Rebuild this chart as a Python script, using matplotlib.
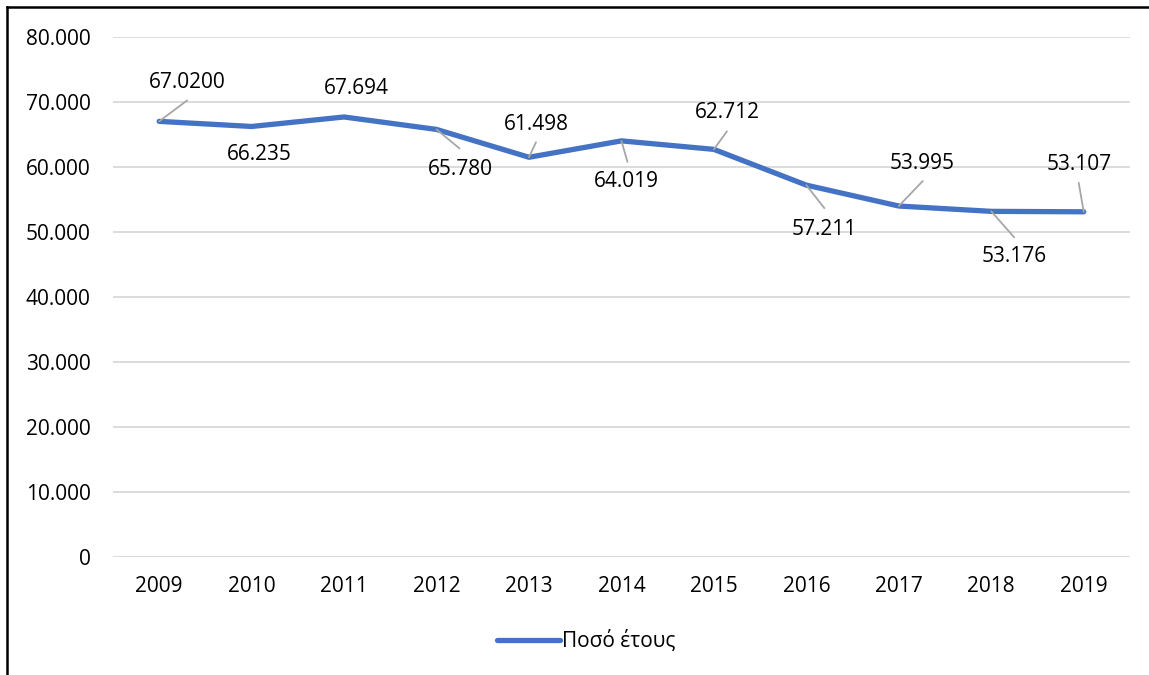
import numpy as np
import matplotlib.pyplot as plt
from matplotlib.ticker import FuncFormatter, MultipleLocator
from matplotlib.lines import Line2D

plt.rcParams['font.family'] = ['Open Sans', 'DejaVu Sans']

# ποσά ανά έτος
years = ['2009', '2010', '2011', '2012', '2013', '2014', '2015', '2016', '2017', '2018', '2019']
amounts = np.array([67020, 66235, 67694, 65780, 61498, 64019, 62712, 57211, 53995, 53176, 53107])
value_labels = ['67.0200', '66.235', '67.694', '65.780', '61.498', '64.019',
                '62.712', '57.211', '53.995', '53.176', '53.107']

# θέσεις ετικετών (σε pixel από το σημείο) και άκρα γραμμών οδηγών
label_offsets = [(28, 39), (8, -28), (12, 28), (24, -40), (7, 33), (5, -41),
                 (13, 37), (18, -44), (23, 43), (23, -45), (-5, 47)]
leader_ends = [(28, 21), None, None, (23, -19), (7, 15), (6, -21),
               (13, 18), (18, -23), (24, 25), (23, -26), (-5, 29)]

fig = plt.figure(figsize=(11.49, 6.75), dpi=100)
ax = fig.add_axes([0.0983, 0.1748, 0.8851, 0.7704])

x = np.arange(len(years))
line, = ax.plot(x, amounts, color='#4472C4', linewidth=3.8,
                solid_capstyle='round', solid_joinstyle='round', label='Ποσό έτους', zorder=3)

for i in range(len(x)):
    if leader_ends[i] is not None:
        ax.annotate('', xy=(x[i], amounts[i]), xytext=leader_ends[i], textcoords='offset pixels',
                    arrowprops=dict(arrowstyle='-', color='#a6a6a6', lw=1.3, shrinkA=0, shrinkB=0),
                    zorder=4)
    ax.annotate(value_labels[i], xy=(x[i], amounts[i]), xytext=label_offsets[i],
                textcoords='offset pixels', ha='center', va='center', fontsize=15, color='#000000')

ax.set_xlim(-0.5, len(years) - 0.5)
ax.set_ylim(0, 80000)
ax.yaxis.set_major_locator(MultipleLocator(10000))
ax.yaxis.set_major_formatter(FuncFormatter(lambda v, p: '{:,.0f}'.format(v).replace(',', '.')))
ax.set_xticks(x)
ax.set_xticklabels(years)
ax.tick_params(axis='both', length=0, labelsize=15, colors='#000000')
ax.tick_params(axis='y', pad=16)
ax.tick_params(axis='x', pad=14)
ax.grid(axis='y', color='#d9d9d9', linewidth=1.3)
ax.set_axisbelow(True)
for s in ax.spines.values():
    s.set_visible(False)

leg = fig.legend(handles=[line], loc='center', bbox_to_anchor=(0.51, 0.05), frameon=False,
                 fontsize=15, handlelength=3.0, handletextpad=0.1)

# πλαίσιο γραφήματος (πάνω και αριστερά)
fig.add_artist(Line2D([7 / 1149, 7 / 1149], [0, 1 - 7 / 675], color='black', linewidth=1.8,
                      transform=fig.transFigure))
fig.add_artist(Line2D([7 / 1149, 1], [1 - 7 / 675, 1 - 7 / 675], color='black', linewidth=1.8,
                      transform=fig.transFigure))

fig.savefig('out.png', dpi=100)
